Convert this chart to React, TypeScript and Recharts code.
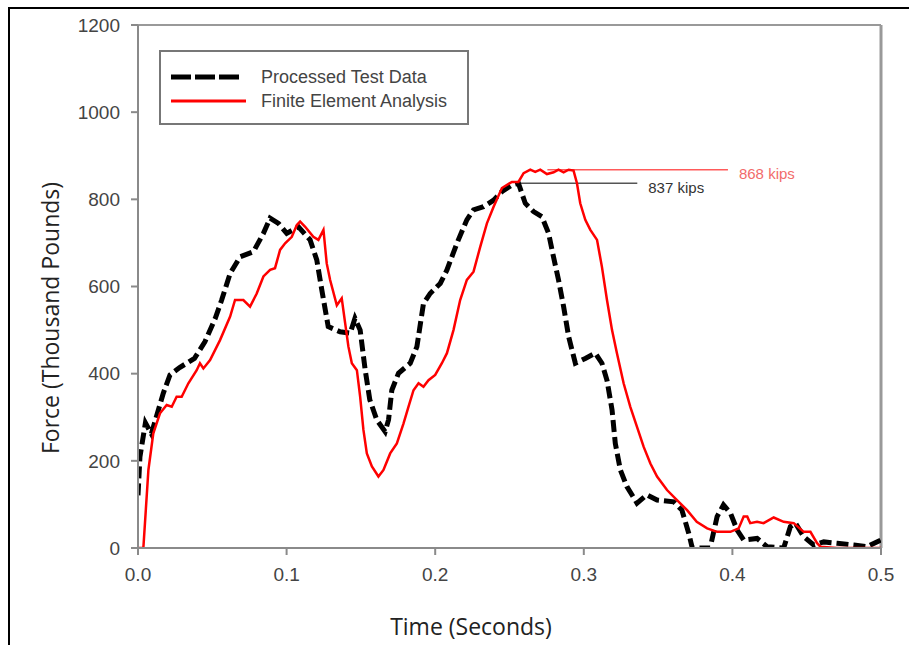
import { LineChart, Line, XAxis, YAxis, ReferenceLine, Legend, Label } from 'recharts'

// time (s) / force (kips) pairs for the measured test trace
const testTime = [
  0, 0.0013, 0.005, 0.009, 0.017, 0.0215, 0.028, 0.038, 0.045, 0.052, 0.0563, 0.062, 0.0687, 0.0777,
  0.0844, 0.0889, 0.0945, 0.1001, 0.108, 0.1158, 0.1203, 0.1237, 0.128, 0.136, 0.1428, 0.146, 0.1495,
  0.1529, 0.156, 0.1607, 0.1663, 0.1686, 0.1708, 0.1753, 0.1832, 0.1877, 0.1921, 0.1966, 0.2034, 0.2079,
  0.2146, 0.2213, 0.2258, 0.2325, 0.2393, 0.245, 0.2516, 0.256, 0.2606, 0.2662, 0.2718, 0.2763, 0.2796,
  0.283, 0.2864, 0.2898, 0.2943, 0.301, 0.3077, 0.3122, 0.3156, 0.319, 0.3212, 0.3246, 0.329, 0.3358,
  0.3425, 0.3493, 0.3605, 0.366, 0.3706, 0.373, 0.385, 0.3897, 0.394, 0.3987, 0.4032, 0.4076, 0.4166,
  0.4233, 0.4345, 0.439, 0.4424, 0.448, 0.4547, 0.4615, 0.4705, 0.4817, 0.4907, 0.4997,
]
const testForce = [
  121, 209, 287, 262, 355, 397, 414, 435, 473, 527, 569, 630, 668, 680,
  722, 757, 745, 722, 737, 707, 661, 592, 508, 496, 493, 527, 500,
  408, 340, 294, 267, 294, 362, 401, 424, 462, 561, 584, 607, 638,
  699, 753, 776, 783, 798, 818, 833, 837, 791, 772, 760, 722, 668,
  615, 554, 485, 424, 435, 447, 424, 385, 317, 240, 179, 141, 103,
  122, 110, 106, 87, 34, 0, 0, 72, 99, 80, 41, 18, 22,
  3, 0, 49, 57, 26, 7, 14, 11, 7, 3, 18,
]

// finite element analysis trace
const feaTime = [
  0, 0.0036, 0.007, 0.0103, 0.0148, 0.0193, 0.0227, 0.026, 0.0294, 0.0339, 0.0395, 0.0417, 0.044, 0.0485,
  0.0552, 0.062, 0.0653, 0.0709, 0.0754, 0.0799, 0.0844, 0.0889, 0.0922, 0.0956, 0.099, 0.1035, 0.1069,
  0.1091, 0.1125, 0.118, 0.1214, 0.1248, 0.127, 0.1293, 0.1338, 0.1371, 0.1394, 0.1416, 0.1439, 0.1473,
  0.1495, 0.1517, 0.154, 0.1574, 0.1618, 0.1652, 0.1697, 0.1742, 0.1787, 0.182, 0.1854, 0.1888, 0.1921,
  0.1955, 0.2, 0.2045, 0.2079, 0.2123, 0.2168, 0.2213, 0.2258, 0.2303, 0.2348, 0.2393, 0.2449, 0.2516,
  0.256, 0.2595, 0.264, 0.2673, 0.2707, 0.2752, 0.2797, 0.283, 0.2864, 0.2898, 0.2931, 0.2954, 0.2976,
  0.301, 0.3044, 0.3089, 0.3122, 0.3156, 0.319, 0.3223, 0.3268, 0.3313, 0.3358, 0.3403, 0.3448, 0.3493,
  0.356, 0.3627, 0.3695, 0.376, 0.383, 0.3897, 0.3987, 0.4042, 0.4076, 0.41, 0.412, 0.4166, 0.421,
  0.4278, 0.4345, 0.4413, 0.448, 0.4525, 0.457, 0.4593, 0.47, 0.5,
]
const feaForce = [
  0, 0, 179, 263, 309, 328, 324, 347, 347, 378, 408, 424, 412, 431,
  477, 531, 569, 569, 554, 584, 623, 638, 642, 684, 699, 714, 741,
  749, 737, 714, 707, 730, 653, 615, 557, 573, 516, 462, 424, 408,
  347, 271, 217, 187, 164, 179, 217, 240, 286, 324, 362, 378, 370,
  385, 397, 424, 447, 500, 569, 615, 634, 691, 745, 783, 826, 840,
  840, 860, 868, 863, 868, 858, 862, 868, 862, 868, 866, 837, 791,
  753, 730, 707, 645, 569, 500, 447, 378, 324, 278, 232, 194, 164,
  133, 110, 87, 60, 45, 37, 37, 45, 72, 72, 57, 60, 57,
  70, 60, 57, 37, 37, 11, 3, 0, 0,
]

const xTicks = [0, 0.1, 0.2, 0.3, 0.4, 0.5]
const yTicks = [0, 200, 400, 600, 800, 1000, 1200]

const testPeak = 837
const feaPeak = 868

const testData = testTime.map((t, i) => ({ t, f: testForce[i] }))
const feaData = feaTime.map((t, i) => ({ t, f: feaForce[i] }))

const series = [
  { name: 'Processed Test Data', color: '#000000', width: 5, dash: '20 4' },
  { name: 'Finite Element Analysis', color: '#ff0000', width: 3, dash: undefined },
]

const axisGray = '#8a8a8a'
const tickStyle = { fill: '#444', fontSize: 19, fontFamily: '"Liberation Sans", Arial, sans-serif' }
const titleFont = '"Open Sans", sans-serif'

function YTitle() {
  return (
    <text
      x={50}
      y={318}
      transform="rotate(-90 50 318)"
      textAnchor="middle"
      dominantBaseline="central"
      fontFamily={titleFont}
      fontSize={23}
      fill="#222"
    >
      Force (Thousand Pounds)
    </text>
  )
}

function XTitle() {
  return (
    <text x={471} y={635} textAnchor="middle" fontFamily={titleFont} fontSize={23} fill="#222">
      Time (Seconds)
    </text>
  )
}

function LegendBox() {
  return (
    <div
      style={{
        width: 306,
        height: 71,
        border: '2px solid #777',
        background: '#fff',
        fontFamily: '"Liberation Sans", Arial, sans-serif',
        fontSize: 18,
        color: '#444',
        position: 'relative',
      }}
    >
      {series.map((s, i) => (
        <div key={s.name} style={{ position: 'absolute', left: 0, top: 13 + i * 24, height: 24, display: 'flex', alignItems: 'center' }}>
          <svg width={100} height={24}>
            <line x1={10} x2={i === 0 ? 78 : 85} y1={12} y2={12} stroke={s.color} strokeWidth={s.width} strokeDasharray={s.dash} />
          </svg>
          <span>{s.name}</span>
        </div>
      ))}
    </div>
  )
}

export default function App() {
  return (
    <div style={{ position: 'fixed', left: 0, top: 0, width: 909, height: 645, overflow: 'hidden', background: '#fff' }}>
      {/* outer black frame, open to the right and bottom */}
      <div style={{ position: 'absolute', left: 8, top: 7, width: 1000, height: 2, background: '#000' }} />
      <div style={{ position: 'absolute', left: 8, top: 7, width: 2, height: 1000, background: '#000' }} />
      <div style={{ position: 'absolute', left: 0, top: 0 }}>
        <LineChart width={909} height={645} margin={{ top: 25, right: 28, left: 38, bottom: 37 }}>
          <XAxis
            type="number"
            dataKey="t"
            domain={[0, 0.5]}
            ticks={xTicks}
            tickFormatter={(v: number) => v.toFixed(1)}
            allowDataOverflow
            height={60}
            tickSize={7}
            tickMargin={13}
            tick={tickStyle}
            tickLine={{ stroke: axisGray, strokeWidth: 2 }}
            axisLine={{ stroke: axisGray, strokeWidth: 2 }}
            label={<Label content={XTitle} />}
          />
          <YAxis
            type="number"
            domain={[0, 1200]}
            ticks={yTicks}
            allowDataOverflow
            width={100}
            tickSize={7}
            tickMargin={11}
            tick={tickStyle}
            tickLine={{ stroke: axisGray, strokeWidth: 2 }}
            axisLine={{ stroke: axisGray, strokeWidth: 2 }}
            label={<Label content={YTitle} />}
          />
          <ReferenceLine y={1200} stroke="#999" strokeWidth={2} />
          <ReferenceLine x={0.5} stroke="#999" strokeWidth={3} />
          <ReferenceLine
            segment={[{ x: 0.2755, y: feaPeak }, { x: 0.397, y: feaPeak }]}
            stroke="#ff5a5a"
            strokeWidth={1.5}
            label={{ value: `${feaPeak} kips`, position: 'right', offset: 11, dy: 4, fill: '#f26b6b', fontSize: 15, fontFamily: '"Liberation Sans", Arial, sans-serif' }}
          />
          <ReferenceLine
            segment={[{ x: 0.257, y: testPeak }, { x: 0.336, y: testPeak }]}
            stroke="#555"
            strokeWidth={1.5}
            label={{ value: `${testPeak} kips`, position: 'right', offset: 11, dy: 4, fill: '#333', fontSize: 15, fontFamily: '"Liberation Sans", Arial, sans-serif' }}
          />
          <Line
            data={testData}
            dataKey="f"
            name={series[0].name}
            type="linear"
            stroke={series[0].color}
            strokeWidth={5}
            strokeDasharray="12 5"
            dot={false}
            activeDot={false}
            isAnimationActive={false}
          />
          <Line
            data={feaData}
            dataKey="f"
            name={series[1].name}
            type="linear"
            stroke={series[1].color}
            strokeWidth={2.5}
            dot={false}
            activeDot={false}
            isAnimationActive={false}
          />
          <Legend
            layout="horizontal"
            verticalAlign="middle"
            align="center"
            content={LegendBox}
            wrapperStyle={{ left: 159, top: 50, width: 310, height: 75 }}
          />
        </LineChart>
      </div>
    </div>
  )
}
